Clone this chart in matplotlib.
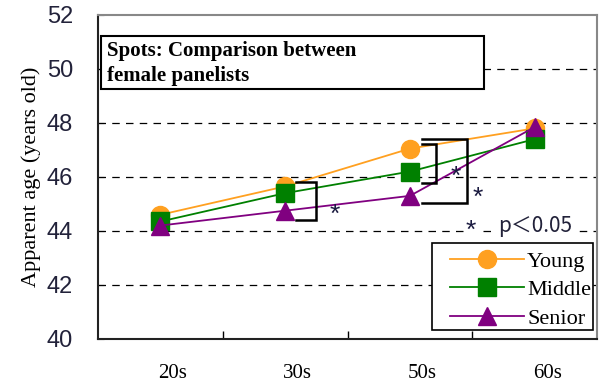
import numpy as np
import matplotlib.pyplot as plt

# data
ages = ["20s", "30s", "50s", "60s"]
young = [44.6, 45.65, 47.05, 47.8]
middle = [44.35, 45.4, 46.2, 47.4]
senior = [44.2, 44.75, 45.3, 47.85]

serif = ["Liberation Serif", "DejaVu Serif"]
sans = ["Liberation Sans", "DejaVu Sans"]

fig = plt.figure(figsize=(6.05, 3.83), dpi=100)
ax = fig.add_axes([0.162, 0.115, 0.825, 0.846])

x = np.arange(len(ages))
ax.plot(x, young, color="#FFA020", lw=1.3, marker="o", ms=13, label="Young", zorder=3)
ax.plot(x, middle, color="#008000", lw=1.3, marker="s", ms=13, label="Middle", zorder=4)
ax.plot(x, senior, color="#800080", lw=1.3, marker="^", ms=13, label="Senior", zorder=5)

ax.set_xlim(-0.5, 3.5)
ax.set_ylim(40, 52)
ax.set_yticks(np.arange(40, 53, 2))
ax.set_yticklabels([str(v) for v in range(40, 53, 2)], family=sans, fontsize=17, color="#22223a")
for v in [42, 44, 46, 48, 50]:
    ax.axhline(v, color="black", lw=0.9, ls=(0, (6, 5)), zorder=1)

# category labels sit a bit right of the points, tick marks between categories
ax.set_xticks(x + 0.1)
ax.set_xticklabels(ages, family=serif, fontsize=15)
ax.set_xticks([0.5, 1.5, 2.5], minor=True)
ax.tick_params(axis="x", which="major", length=0, pad=18)
ax.tick_params(axis="x", which="minor", direction="in", length=6, width=1)
ax.tick_params(axis="y", direction="in", length=4, pad=18)

ax.set_ylabel("Apparent age (years old)", family=serif, fontsize=16, labelpad=4)

for s in ["top", "right"]:
    ax.spines[s].set_color("#888888")
    ax.spines[s].set_linewidth(1.5)
for s in ["left", "bottom"]:
    ax.spines[s].set_color("#222222")
    ax.spines[s].set_linewidth(1.5)

# significance brackets
def bracket(x0, x1, y0, y1):
    ax.plot([x0, x1, x1, x0], [y1, y1, y0, y0], color="black", lw=1.8, zorder=6,
            solid_joinstyle="miter")

bracket(1.09, 1.245, 44.42, 45.8)
bracket(2.10, 2.21, 45.78, 47.22)
bracket(2.10, 2.46, 45.05, 47.42)

star_kw = dict(fontsize=19, family=sans, color="#1a1a40", ha="center", va="center", zorder=7)
ax.text(1.40, 44.6, "*", **star_kw)
ax.text(2.37, 46.0, "*", **star_kw)
ax.text(2.54, 45.23, "*", **star_kw)
ax.text(2.49, 44.0, "*", bbox=dict(fc="white", ec="none", pad=1), **star_kw)
ax.text(2.71, 44.19, "p＜0.05", fontsize=15, family=["Noto Sans CJK JP", "DejaVu Sans"],
        color="#22223a", ha="left", va="center", zorder=7,
        bbox=dict(fc="white", ec="none", pad=1))

# title box
ax.add_patch(plt.Rectangle((-0.476, 49.26), 3.07, 1.96, fc="white", ec="black", lw=1.5, zorder=7))
ax.text(-0.43, 51.02, "Spots: Comparison between\nfemale panelists", family=serif,
        fontsize=15, fontweight="bold", ha="left", va="top", linespacing=1.3, zorder=8)

# legend: own frame, wider than the entries like the reference
ax.add_patch(plt.Rectangle((0.669, 0.028), 0.323, 0.268, transform=ax.transAxes,
                           fc="white", ec="black", lw=1.2, zorder=9))
leg = ax.legend(loc="upper left", bbox_to_anchor=(0.697, 0.285), prop={"family": serif, "size": 16},
                frameon=False, handlelength=3.3, borderpad=0.2, labelspacing=0.36,
                handletextpad=0.15, borderaxespad=0)
leg.set_zorder(10)

fig.savefig("out.png", dpi=100)
